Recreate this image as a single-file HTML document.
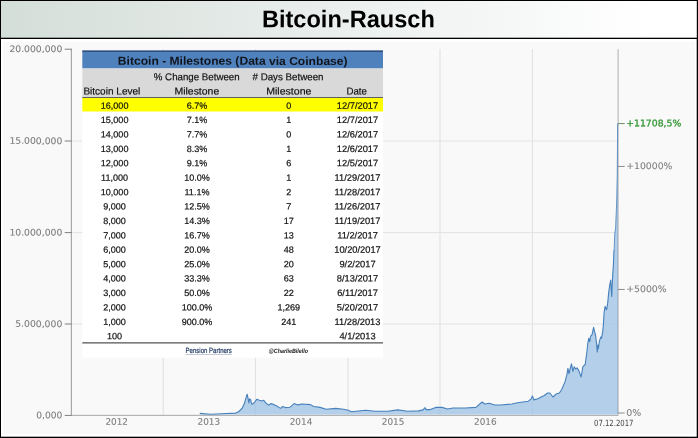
<!DOCTYPE html>
<html lang="de"><head><meta charset="utf-8"><title>Bitcoin-Rausch</title>
<style>
html,body{margin:0;padding:0;background:#000;}
body{width:698px;height:438px;overflow:hidden;}
svg{display:block;font-family:"Liberation Sans",sans-serif;text-rendering:geometricPrecision;}
.ax{fill:#7c7c7c;stroke:#7c7c7c;stroke-width:0.1px;font-size:9px;font-family:"DejaVu Sans","Liberation Sans",sans-serif;}
.td{fill:#111;font-size:9.05px;text-anchor:middle;stroke:#111;stroke-width:0.2px;}
.th{fill:#111;font-size:10px;stroke:#111;stroke-width:0.2px;}
</style></head><body>
<svg width="698" height="438" viewBox="0 0 698 438">
<defs><linearGradient id="hg" x1="0" y1="0" x2="1" y2="0"><stop offset="0" stop-color="#d4ded9"/><stop offset="0.93" stop-color="#ffffff"/><stop offset="1" stop-color="#ffffff"/></linearGradient></defs>
<rect x="0" y="0" width="698" height="438" fill="#000"/>
<rect x="1" y="1" width="695.8" height="36.7" fill="url(#hg)"/>
<rect x="1" y="39" width="695.7" height="397.7" fill="#fff"/>
<rect x="2.8" y="41.8" width="692.3" height="392.3" fill="#f9f9f9"/>
<text x="348.4" y="27.2" text-anchor="middle" font-size="24" font-weight="bold" fill="#000" textLength="173" lengthAdjust="spacingAndGlyphs" transform="rotate(0.03 348.4 27.2)">Bitcoin-Rausch</text>
<rect x="72.5" y="140.5" width="545" height="1" fill="#e3e3e3"/>
<rect x="72.5" y="232.1" width="545" height="1" fill="#e3e3e3"/>
<rect x="72.5" y="323.5" width="545" height="1" fill="#e3e3e3"/>
<rect x="162.6" y="49" width="1.2" height="366" fill="#e3e3e3"/>
<rect x="254.8" y="49" width="1.2" height="366" fill="#e3e3e3"/>
<rect x="347.4" y="49" width="1.2" height="366" fill="#e3e3e3"/>
<rect x="439.4" y="49" width="1.2" height="366" fill="#e3e3e3"/>
<rect x="531.8" y="49" width="1.2" height="366" fill="#e3e3e3"/>
<rect x="70.8" y="48.8" width="1.15" height="367" fill="#a4a4a4"/>
<rect x="71.3" y="414.8" width="547" height="1.2" fill="#b4b4b4"/>
<rect x="617.5" y="49.2" width="1.2" height="366" fill="#bcbcbc"/>
<path d="M199.8,413.4 L210.5,414.2 L221.5,413.7 L235.7,413.1 L238.9,411.5 L242.0,408.4 L244.4,403.6 L245.9,398.1 L247.2,394.2 L248.3,399.7 L248.9,402.9 L249.6,398.9 L250.7,399.7 L251.5,403.6 L252.3,404.4 L254.6,402.1 L257.0,399.2 L259.3,400.2 L261.7,401.0 L263.8,400.2 L265.7,402.9 L268.8,405.2 L270.7,403.6 L273.5,404.4 L276.7,406.0 L280.6,408.4 L282.7,406.5 L285.4,407.6 L290.1,407.2 L294.2,403.6 L297.9,404.9 L301.8,404.0 L310.5,404.6 L313.6,406.5 L320.0,407.4 L326.2,409.3 L335.7,408.4 L343.6,409.3 L348.3,410.3 L351.5,411.8 L356.2,411.2 L365.6,410.3 L375.1,411.2 L387.7,411.2 L397.9,409.9 L407.3,411.2 L418.4,410.9 L423.1,409.9 L425.0,407.7 L426.2,409.6 L430.2,409.6 L435.7,407.4 L442.0,407.4 L447.5,409.0 L453.0,408.0 L465.6,408.0 L475.9,407.4 L479.8,404.0 L482.2,402.0 L484.6,404.0 L489.3,403.3 L494.6,405.0 L501.0,405.0 L511.9,404.0 L517.4,402.7 L528.4,401.2 L531.1,398.8 L532.4,395.9 L533.9,399.9 L537.9,398.8 L542.1,396.6 L543.9,395.7 L547.6,393.0 L549.9,393.0 L553.0,397.0 L556.0,394.1 L559.4,393.0 L561.7,389.5 L565.1,381.6 L566.9,374.7 L567.9,368.3 L569.0,373.6 L570.1,369.0 L571.5,363.8 L572.9,371.3 L574.2,366.7 L575.6,369.0 L577.0,367.9 L578.8,370.6 L581.1,377.0 L582.9,366.7 L585.2,364.5 L586.6,354.2 L587.9,342.8 L588.8,338.2 L589.7,341.7 L590.7,336.0 L592.0,334.8 L593.6,327.3 L594.8,332.5 L595.7,336.0 L596.6,343.9 L597.3,351.9 L598.0,345.1 L598.4,348.5 L599.3,341.7 L600.7,337.1 L601.6,338.2 L602.7,331.4 L603.4,324.6 L604.1,312.7 L605.1,306.4 L606.6,309.7 L607.6,303.9 L608.7,292.6 L609.7,285.1 L610.7,280.1 L611.7,296.4 L612.7,275.1 L613.4,265.0 L614.0,250.0 L614.6,234.0 L615.5,228.0 L616.0,215.0 L616.6,200.0 L617.1,175.0 L617.5,123.5 L617.8,123.5 L617.8,414.6 L199.8,414.6 Z" fill="#9bc0e4" fill-opacity="0.74"/>
<rect x="617.2" y="124" width="0.7" height="290" fill="#7f9fbf" fill-opacity="0.6"/>
<path d="M199.8,413.4 L210.5,414.2 L221.5,413.7 L235.7,413.1 L238.9,411.5 L242.0,408.4 L244.4,403.6 L245.9,398.1 L247.2,394.2 L248.3,399.7 L248.9,402.9 L249.6,398.9 L250.7,399.7 L251.5,403.6 L252.3,404.4 L254.6,402.1 L257.0,399.2 L259.3,400.2 L261.7,401.0 L263.8,400.2 L265.7,402.9 L268.8,405.2 L270.7,403.6 L273.5,404.4 L276.7,406.0 L280.6,408.4 L282.7,406.5 L285.4,407.6 L290.1,407.2 L294.2,403.6 L297.9,404.9 L301.8,404.0 L310.5,404.6 L313.6,406.5 L320.0,407.4 L326.2,409.3 L335.7,408.4 L343.6,409.3 L348.3,410.3 L351.5,411.8 L356.2,411.2 L365.6,410.3 L375.1,411.2 L387.7,411.2 L397.9,409.9 L407.3,411.2 L418.4,410.9 L423.1,409.9 L425.0,407.7 L426.2,409.6 L430.2,409.6 L435.7,407.4 L442.0,407.4 L447.5,409.0 L453.0,408.0 L465.6,408.0 L475.9,407.4 L479.8,404.0 L482.2,402.0 L484.6,404.0 L489.3,403.3 L494.6,405.0 L501.0,405.0 L511.9,404.0 L517.4,402.7 L528.4,401.2 L531.1,398.8 L532.4,395.9 L533.9,399.9 L537.9,398.8 L542.1,396.6 L543.9,395.7 L547.6,393.0 L549.9,393.0 L553.0,397.0 L556.0,394.1 L559.4,393.0 L561.7,389.5 L565.1,381.6 L566.9,374.7 L567.9,368.3 L569.0,373.6 L570.1,369.0 L571.5,363.8 L572.9,371.3 L574.2,366.7 L575.6,369.0 L577.0,367.9 L578.8,370.6 L581.1,377.0 L582.9,366.7 L585.2,364.5 L586.6,354.2 L587.9,342.8 L588.8,338.2 L589.7,341.7 L590.7,336.0 L592.0,334.8 L593.6,327.3 L594.8,332.5 L595.7,336.0 L596.6,343.9 L597.3,351.9 L598.0,345.1 L598.4,348.5 L599.3,341.7 L600.7,337.1 L601.6,338.2 L602.7,331.4 L603.4,324.6 L604.1,312.7 L605.1,306.4 L606.6,309.7 L607.6,303.9 L608.7,292.6 L609.7,285.1 L610.7,280.1 L611.7,296.4 L612.7,275.1 L613.4,265.0 L614.0,250.0" fill="none" stroke="#4680bb" stroke-width="1.1" stroke-linejoin="round"/>
<path d="M614.15,250.0 L614.75,234.0 L615.65,228.0 L616.15,215.0 L616.75,200.0 L617.25,175.0 L617.65,123.5" fill="none" stroke="#5a8cc0" stroke-width="0.9" stroke-linejoin="round"/>
<rect x="64.7" y="48.7" width="7" height="1" fill="#808080"/>
<text class="ax" x="62.3" y="52.1" text-anchor="end" textLength="52.9" lengthAdjust="spacingAndGlyphs" transform="rotate(0.03 62.3 52.1)">20.000,000</text>
<rect x="64.7" y="140.5" width="7" height="1" fill="#808080"/>
<text class="ax" x="62.3" y="143.9" text-anchor="end" textLength="52.9" lengthAdjust="spacingAndGlyphs" transform="rotate(0.03 62.3 143.9)">15.000,000</text>
<rect x="64.7" y="232.1" width="7" height="1" fill="#808080"/>
<text class="ax" x="62.3" y="235.5" text-anchor="end" textLength="52.9" lengthAdjust="spacingAndGlyphs" transform="rotate(0.03 62.3 235.5)">10.000,000</text>
<rect x="64.7" y="323.5" width="7" height="1" fill="#808080"/>
<text class="ax" x="62.3" y="326.9" text-anchor="end" textLength="47.1" lengthAdjust="spacingAndGlyphs" transform="rotate(0.03 62.3 326.9)">5.000,000</text>
<rect x="64.7" y="414.9" width="7" height="1" fill="#808080"/>
<text class="ax" x="62.3" y="418.3" text-anchor="end" textLength="26.1" lengthAdjust="spacingAndGlyphs" transform="rotate(0.03 62.3 418.3)">0,000</text>
<rect x="618" y="412.55" width="6.7" height="0.9" fill="#808080"/>
<text class="ax" x="626.2" y="415.8" style="fill:#808080;stroke:#808080" textLength="15" lengthAdjust="spacingAndGlyphs" transform="rotate(0.03 626.2 415.8)">0%</text>
<rect x="618" y="288.95" width="6.7" height="0.9" fill="#808080"/>
<text class="ax" x="626.2" y="292.0" style="fill:#808080;stroke:#808080" textLength="40.5" lengthAdjust="spacingAndGlyphs" transform="rotate(0.03 626.2 292.0)">+5000%</text>
<rect x="618" y="165.95000000000002" width="6.7" height="0.9" fill="#808080"/>
<text class="ax" x="626.2" y="169.0" style="fill:#808080;stroke:#808080" textLength="46.2" lengthAdjust="spacingAndGlyphs" transform="rotate(0.03 626.2 169.0)">+10000%</text>
<rect x="618" y="123.14999999999999" width="6.7" height="0.9" fill="#5e805e"/>
<text class="ax" x="626.2" y="126.2" style="fill:#3a9a3a;stroke:#3a9a3a;stroke-width:0.35px" textLength="55.1" lengthAdjust="spacingAndGlyphs" transform="rotate(0.03 626.2 126.2)">+11708,5%</text>
<text class="ax" x="116.7" y="424.7" text-anchor="middle" textLength="22.6" lengthAdjust="spacingAndGlyphs" transform="rotate(0.03 116.7 424.7)">2012</text>
<text class="ax" x="208.8" y="424.7" text-anchor="middle" textLength="22.6" lengthAdjust="spacingAndGlyphs" transform="rotate(0.03 208.8 424.7)">2013</text>
<text class="ax" x="301" y="424.7" text-anchor="middle" textLength="22.6" lengthAdjust="spacingAndGlyphs" transform="rotate(0.03 301 424.7)">2014</text>
<text class="ax" x="393.1" y="424.7" text-anchor="middle" textLength="22.6" lengthAdjust="spacingAndGlyphs" transform="rotate(0.03 393.1 424.7)">2015</text>
<text class="ax" x="485.3" y="424.7" text-anchor="middle" textLength="22.6" lengthAdjust="spacingAndGlyphs" transform="rotate(0.03 485.3 424.7)">2016</text>
<text x="594" y="425.8" style="font-family:'DejaVu Sans','Liberation Sans',sans-serif;font-stretch:condensed" font-size="8.5" fill="#444" textLength="39.4" lengthAdjust="spacingAndGlyphs" transform="rotate(0.03 594 425.8)">07.12.2017</text>
<rect x="82.3" y="50.6" width="300.7" height="307.1" fill="#fff"/>
<rect x="82.3" y="50.6" width="300.7" height="17.9" fill="#4f81bd"/>
<rect x="82.3" y="50.6" width="300.7" height="1" fill="#1f2f55"/>
<rect x="82.3" y="68.5" width="300.7" height="29.2" fill="#d9d9d9"/>
<rect x="82.3" y="97.2" width="300.7" height="1" fill="#404040"/>
<rect x="82.3" y="98" width="300.7" height="13.5" fill="#ffff00"/>
<rect x="82.3" y="342.4" width="300.7" height="1" fill="#2a2a2a"/>
<text x="117.8" y="64.8" font-size="11.6" font-weight="bold" fill="#10141c" textLength="229.8" lengthAdjust="spacingAndGlyphs" transform="rotate(0.03 117.8 64.8)">Bitcoin - Milestones (Data via Coinbase)</text>
<text class="th" x="153.8" y="80.3" textLength="85.8" lengthAdjust="spacingAndGlyphs" transform="rotate(0.03 153.8 80.3)">% Change Between</text>
<text class="th" x="252.5" y="80.3" textLength="71" lengthAdjust="spacingAndGlyphs" transform="rotate(0.03 252.5 80.3)"># Days Between</text>
<text class="th" x="83.4" y="94.6" textLength="56.9" lengthAdjust="spacingAndGlyphs" transform="rotate(0.03 83.4 94.6)">Bitcoin Level</text>
<text class="th" x="174.5" y="94.6" textLength="44.7" lengthAdjust="spacingAndGlyphs" transform="rotate(0.03 174.5 94.6)">Milestone</text>
<text class="th" x="266.2" y="94.6" textLength="45.2" lengthAdjust="spacingAndGlyphs" transform="rotate(0.03 266.2 94.6)">Milestone</text>
<text class="th" x="346.5" y="94.6" textLength="20.4" lengthAdjust="spacingAndGlyphs" transform="rotate(0.03 346.5 94.6)">Date</text>
<text class="td" x="114.6" y="108.7" transform="rotate(0.03 114.6 108.7)">16,000</text>
<text class="td" x="197" y="108.7" transform="rotate(0.03 197 108.7)">6.7%</text>
<text class="td" x="288.7" y="108.7" transform="rotate(0.03 288.7 108.7)">0</text>
<text class="td" style="font-size:9.3px" x="357.5" y="108.7" transform="rotate(0.03 357.5 108.7)">12/7/2017</text>
<text class="td" x="114.6" y="123.1" transform="rotate(0.03 114.6 123.1)">15,000</text>
<text class="td" x="197" y="123.1" transform="rotate(0.03 197 123.1)">7.1%</text>
<text class="td" x="288.7" y="123.1" transform="rotate(0.03 288.7 123.1)">1</text>
<text class="td" style="font-size:9.3px" x="357.5" y="123.1" transform="rotate(0.03 357.5 123.1)">12/7/2017</text>
<text class="td" x="114.6" y="137.5" transform="rotate(0.03 114.6 137.5)">14,000</text>
<text class="td" x="197" y="137.5" transform="rotate(0.03 197 137.5)">7.7%</text>
<text class="td" x="288.7" y="137.5" transform="rotate(0.03 288.7 137.5)">0</text>
<text class="td" style="font-size:9.3px" x="357.5" y="137.5" transform="rotate(0.03 357.5 137.5)">12/6/2017</text>
<text class="td" x="114.6" y="151.9" transform="rotate(0.03 114.6 151.9)">13,000</text>
<text class="td" x="197" y="151.9" transform="rotate(0.03 197 151.9)">8.3%</text>
<text class="td" x="288.7" y="151.9" transform="rotate(0.03 288.7 151.9)">1</text>
<text class="td" style="font-size:9.3px" x="357.5" y="151.9" transform="rotate(0.03 357.5 151.9)">12/6/2017</text>
<text class="td" x="114.6" y="166.3" transform="rotate(0.03 114.6 166.3)">12,000</text>
<text class="td" x="197" y="166.3" transform="rotate(0.03 197 166.3)">9.1%</text>
<text class="td" x="288.7" y="166.3" transform="rotate(0.03 288.7 166.3)">6</text>
<text class="td" style="font-size:9.3px" x="357.5" y="166.3" transform="rotate(0.03 357.5 166.3)">12/5/2017</text>
<text class="td" x="114.6" y="180.8" transform="rotate(0.03 114.6 180.8)">11,000</text>
<text class="td" x="197" y="180.8" transform="rotate(0.03 197 180.8)">10.0%</text>
<text class="td" x="288.7" y="180.8" transform="rotate(0.03 288.7 180.8)">1</text>
<text class="td" style="font-size:9.3px" x="357.5" y="180.8" transform="rotate(0.03 357.5 180.8)">11/29/2017</text>
<text class="td" x="114.6" y="195.2" transform="rotate(0.03 114.6 195.2)">10,000</text>
<text class="td" x="197" y="195.2" transform="rotate(0.03 197 195.2)">11.1%</text>
<text class="td" x="288.7" y="195.2" transform="rotate(0.03 288.7 195.2)">2</text>
<text class="td" style="font-size:9.3px" x="357.5" y="195.2" transform="rotate(0.03 357.5 195.2)">11/28/2017</text>
<text class="td" x="114.6" y="209.6" transform="rotate(0.03 114.6 209.6)">9,000</text>
<text class="td" x="197" y="209.6" transform="rotate(0.03 197 209.6)">12.5%</text>
<text class="td" x="288.7" y="209.6" transform="rotate(0.03 288.7 209.6)">7</text>
<text class="td" style="font-size:9.3px" x="357.5" y="209.6" transform="rotate(0.03 357.5 209.6)">11/26/2017</text>
<text class="td" x="114.6" y="224.0" transform="rotate(0.03 114.6 224.0)">8,000</text>
<text class="td" x="197" y="224.0" transform="rotate(0.03 197 224.0)">14.3%</text>
<text class="td" x="288.7" y="224.0" transform="rotate(0.03 288.7 224.0)">17</text>
<text class="td" style="font-size:9.3px" x="357.5" y="224.0" transform="rotate(0.03 357.5 224.0)">11/19/2017</text>
<text class="td" x="114.6" y="238.4" transform="rotate(0.03 114.6 238.4)">7,000</text>
<text class="td" x="197" y="238.4" transform="rotate(0.03 197 238.4)">16.7%</text>
<text class="td" x="288.7" y="238.4" transform="rotate(0.03 288.7 238.4)">13</text>
<text class="td" style="font-size:9.3px" x="357.5" y="238.4" transform="rotate(0.03 357.5 238.4)">11/2/2017</text>
<text class="td" x="114.6" y="252.8" transform="rotate(0.03 114.6 252.8)">6,000</text>
<text class="td" x="197" y="252.8" transform="rotate(0.03 197 252.8)">20.0%</text>
<text class="td" x="288.7" y="252.8" transform="rotate(0.03 288.7 252.8)">48</text>
<text class="td" style="font-size:9.3px" x="357.5" y="252.8" transform="rotate(0.03 357.5 252.8)">10/20/2017</text>
<text class="td" x="114.6" y="267.2" transform="rotate(0.03 114.6 267.2)">5,000</text>
<text class="td" x="197" y="267.2" transform="rotate(0.03 197 267.2)">25.0%</text>
<text class="td" x="288.7" y="267.2" transform="rotate(0.03 288.7 267.2)">20</text>
<text class="td" style="font-size:9.3px" x="357.5" y="267.2" transform="rotate(0.03 357.5 267.2)">9/2/2017</text>
<text class="td" x="114.6" y="281.6" transform="rotate(0.03 114.6 281.6)">4,000</text>
<text class="td" x="197" y="281.6" transform="rotate(0.03 197 281.6)">33.3%</text>
<text class="td" x="288.7" y="281.6" transform="rotate(0.03 288.7 281.6)">63</text>
<text class="td" style="font-size:9.3px" x="357.5" y="281.6" transform="rotate(0.03 357.5 281.6)">8/13/2017</text>
<text class="td" x="114.6" y="296.0" transform="rotate(0.03 114.6 296.0)">3,000</text>
<text class="td" x="197" y="296.0" transform="rotate(0.03 197 296.0)">50.0%</text>
<text class="td" x="288.7" y="296.0" transform="rotate(0.03 288.7 296.0)">22</text>
<text class="td" style="font-size:9.3px" x="357.5" y="296.0" transform="rotate(0.03 357.5 296.0)">6/11/2017</text>
<text class="td" x="114.6" y="310.4" transform="rotate(0.03 114.6 310.4)">2,000</text>
<text class="td" x="197" y="310.4" transform="rotate(0.03 197 310.4)">100.0%</text>
<text class="td" x="288.7" y="310.4" transform="rotate(0.03 288.7 310.4)">1,269</text>
<text class="td" style="font-size:9.3px" x="357.5" y="310.4" transform="rotate(0.03 357.5 310.4)">5/20/2017</text>
<text class="td" x="114.6" y="324.9" transform="rotate(0.03 114.6 324.9)">1,000</text>
<text class="td" x="197" y="324.9" transform="rotate(0.03 197 324.9)">900.0%</text>
<text class="td" x="288.7" y="324.9" transform="rotate(0.03 288.7 324.9)">241</text>
<text class="td" style="font-size:9.3px" x="357.5" y="324.9" transform="rotate(0.03 357.5 324.9)">11/28/2013</text>
<text class="td" x="114.6" y="339.3" transform="rotate(0.03 114.6 339.3)">100</text>
<text class="td" style="font-size:9.3px" x="357.5" y="339.3" transform="rotate(0.03 357.5 339.3)">4/1/2013</text>
<text x="185.6" y="353.3" font-size="7.6" fill="#1f3864" stroke="#1f3864" stroke-width="0.2" textLength="46.3" lengthAdjust="spacingAndGlyphs" transform="rotate(0.03 185.6 353.3)">Pension Partners</text>
<rect x="185.6" y="354.2" width="46.3" height="0.5" fill="#8a94a8"/>
<text x="268.6" y="353.1" font-size="6.2" font-style="italic" font-weight="bold" fill="#222" textLength="39.4" lengthAdjust="spacingAndGlyphs" transform="rotate(0.03 268.6 353.1)">@CharlieBilello</text>
</svg></body></html>
